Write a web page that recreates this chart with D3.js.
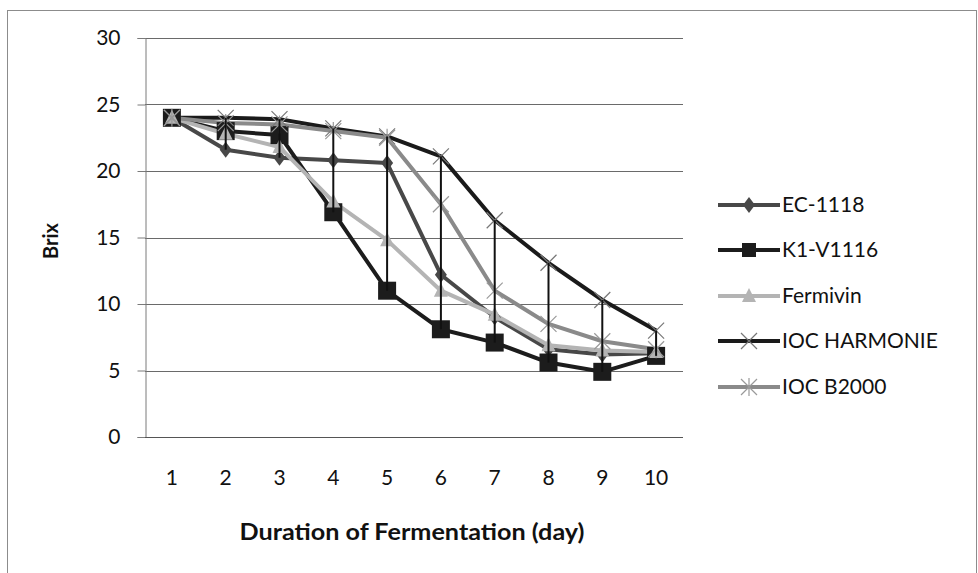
<!DOCTYPE html>
<html>
<head>
<meta charset="utf-8">
<script src="https://d3js.org/d3.v7.min.js"></script>
<style>
  html, body { margin: 0; padding: 0; background: #fff; }
  svg { display: block; font-family: Lato, "Open Sans", sans-serif; }
</style>
</head>
<body>
<svg id="chart" width="978" height="573"></svg>
<script>
// ---- data ----
const days = ["1", "2", "3", "4", "5", "6", "7", "8", "9", "10"];
const seriesNames = ["EC-1118", "K1-V1116", "Fermivin", "IOC HARMONIE", "IOC B2000"];
const ec1118     = [24, 21.6, 21.0, 20.8, 20.6, 12.2, 9.0, 6.6, 6.2, 6.3];
const k1v1116    = [24, 23.0, 22.7, 16.9, 11.0, 8.1, 7.1, 5.6, 4.9, 6.1];
const fermivin   = [24, 22.8, 21.8, 17.7, 14.8, 11.0, 9.2, 6.9, 6.5, 6.4];
const harmonie   = [24, 24.0, 23.9, 23.2, 22.6, 21.1, 16.3, 13.1, 10.3, 8.0];
const b2000      = [24, 23.6, 23.5, 23.0, 22.5, 17.5, 11.0, 8.5, 7.2, 6.6];
const yTicks = [0, 5, 10, 15, 20, 25, 30];
const xTitle = "Duration of Fermentation (day)";
const yTitle = "Brix";

const seriesValues = [ec1118, k1v1116, fermivin, harmonie, b2000];

// ---- styles ----
const colors  = ["#484848", "#1c1c1c", "#b4b4b4", "#1a1a1a", "#8a8a8a"];
const markers = ["diamond", "square", "triangle", "x", "star"];

const svg = d3.select("#chart");
const plot = { left: 145, right: 683, top: 38, bottom: 437 };

// outer border
svg.append("rect")
  .attr("x", 7.5).attr("y", 10.5).attr("width", 969).attr("height", 600)
  .attr("fill", "none").attr("stroke", "#8c8c8c").attr("stroke-width", 1);

const x = d3.scaleBand().domain(days).range([plot.left, plot.right]).padding(0);
const cx = d => x(d) + x.bandwidth() / 2;
const y = d3.scaleLinear().domain([0, 30]).range([plot.bottom, plot.top]);

// gridlines
svg.append("g").selectAll("line").data(yTicks.filter(t => t > 0)).join("line")
  .attr("x1", plot.left).attr("x2", plot.right)
  .attr("y1", d => Math.round(y(d)) + 0.5).attr("y2", d => Math.round(y(d)) + 0.5)
  .attr("stroke", "#6a6a6a").attr("stroke-width", 1);

// y axis
const yAxis = svg.append("g")
  .attr("transform", `translate(${plot.left + 0.5},0)`)
  .call(d3.axisLeft(y).tickValues(yTicks).tickSize(8).tickPadding(17));
yAxis.select(".domain").attr("stroke", "#7a7a7a");
yAxis.selectAll(".tick line").attr("stroke", "#7a7a7a");
yAxis.selectAll(".tick text").attr("font-size", 21).attr("fill", "#111")
  .attr("font-family", "Lato, sans-serif");

// x axis
const xAxis = svg.append("g")
  .attr("transform", `translate(0,${Math.round(plot.bottom) + 0.5})`)
  .call(d3.axisBottom(x).tickSize(0).tickPadding(33));
xAxis.select(".domain").attr("stroke", "#555").attr("d", `M${plot.left},0H${plot.right}`);
xAxis.selectAll(".tick text").attr("font-size", 21).attr("fill", "#111")
  .attr("font-family", "Lato, sans-serif");

// axis titles
svg.append("text").attr("x", 412).attr("y", 540).attr("text-anchor", "middle")
  .attr("font-size", 22).attr("font-weight", "bold").attr("fill", "#111")
  .attr("textLength", 345).attr("lengthAdjust", "spacingAndGlyphs").text(xTitle);
svg.append("text").attr("transform", "translate(58,241) rotate(-90)")
  .attr("text-anchor", "middle").attr("font-size", 20).attr("font-weight", "bold")
  .attr("fill", "#111").text(yTitle);

// marker drawing
function drawMarker(g, type, color, sq) {
  if (type === "diamond") {
    g.append("path").attr("d", "M0,-8L6,0L0,8L-6,0Z").attr("fill", color);
  } else if (type === "square") {
    const s = sq || 18;
    g.append("rect").attr("x", -s / 2).attr("y", -s / 2).attr("width", s).attr("height", s).attr("fill", color);
  } else if (type === "triangle") {
    g.append("path").attr("d", "M0,-8L7,6L-7,6Z").attr("fill", color);
  } else if (type === "x") {
    g.append("path").attr("d", "M-8,-8L8,8M-8,8L8,-8").attr("stroke", "#777").attr("stroke-width", 1.2).attr("fill", "none");
  } else if (type === "star") {
    g.append("path").attr("d", "M-8,-8L8,8M-8,8L8,-8M0,-9V9").attr("stroke", "#9a9a9a").attr("stroke-width", 1.2).attr("fill", "none");
  }
}

const line = d3.line().x((d, i) => cx(days[i])).y(d => y(d));

// series lines
seriesValues.forEach((vals, si) => {
  svg.append("path").datum(vals).attr("d", line)
    .attr("fill", "none").attr("stroke", colors[si]).attr("stroke-width", 4)
    .attr("stroke-linejoin", "round");
});

// markers
seriesValues.forEach((vals, si) => {
  const g = svg.append("g");
  vals.forEach((v, i) => {
    const mg = g.append("g").attr("transform", `translate(${cx(days[i])},${y(v)})`);
    drawMarker(mg, markers[si], colors[si]);
  });
});

// high-low lines
const hiLo = days.map((d, i) => {
  const vs = seriesValues.map(s => s[i]);
  return { d, hi: d3.max(vs), lo: d3.min(vs) };
});
svg.append("g").selectAll("line").data(hiLo).join("line")
  .attr("x1", d => cx(d.d)).attr("x2", d => cx(d.d))
  .attr("y1", d => y(d.hi)).attr("y2", d => y(d.lo))
  .attr("stroke", "#111").attr("stroke-width", 2);

// legend
const legendY = [205, 250, 296, 341, 387];
const lg = svg.append("g");
seriesNames.forEach((name, i) => {
  const g = lg.append("g").attr("transform", `translate(0,${legendY[i]})`);
  g.append("line").attr("x1", 718).attr("x2", 780).attr("y1", 0).attr("y2", 0)
    .attr("stroke", colors[i]).attr("stroke-width", 4);
  const mg = g.append("g").attr("transform", "translate(749,0)");
  drawMarker(mg, markers[i], colors[i], 14);
  g.append("text").attr("x", 782).attr("y", 0).attr("dy", "0.35em")
    .attr("font-size", 21).attr("fill", "#111").text(name);
});
</script>
</body>
</html>
